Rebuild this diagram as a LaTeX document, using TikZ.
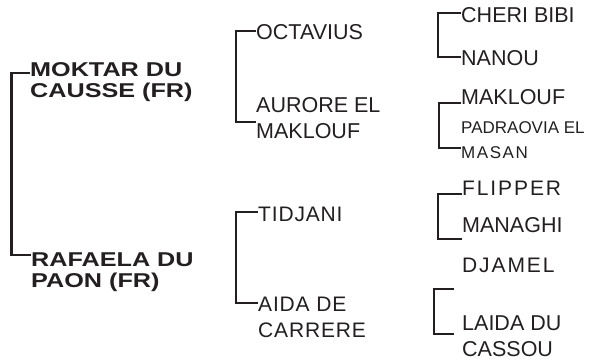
\documentclass[tikz,border=0pt]{standalone}
\usepackage{fontspec}
\setmainfont{Liberation Sans}
\newfontfamily\sirefont[FakeStretch=1.26]{Liberation Sans}
\newfontfamily\widefont[LetterSpace=4]{Liberation Sans}
\newfontfamily\widerfont[LetterSpace=9]{Liberation Sans}
\definecolor{ink}{HTML}{231F20}

\tikzset{
	bracket/.style={line width=2.2pt, draw=ink},
	horse/.style={anchor=base west, inner sep=0pt, align=left, text=ink, font=\fontsize{21.5}{25.5}\selectfont},
	sire/.style={horse, font=\sirefont\bfseries\fontsize{20}{21}\selectfont},
	horsewide/.style={horse, font=\widefont\fontsize{21}{26}\selectfont},
	horsewider/.style={horse, font=\widerfont\fontsize{21}{25}\selectfont},
	horsesmall/.style={horse, font=\fontsize{17}{25}\selectfont}
}

\begin{document}
\begin{tikzpicture}[x=1pt, y=-1pt]
	\useasboundingbox (0,0) rectangle (601,361);
	% first generation
	\node[sire] (moktar) at (30,97) {MOKTAR DU\\CAUSSE (FR)};
	\node[sire] (rafaela) at (31,287) {RAFAELA DU\\PAON (FR)};
	% second generation
	\node[horse] (octavius) at (256,40) {OCTAVIUS};
	\node[horse] (aurore) at (256,138) {AURORE EL\\MAKLOUF};
	\node[horsewide] (tidjani) at (258,221) {TIDJANI};
	\node[horsewide] (aida) at (258,337) {AIDA DE\\CARRERE};
	% third generation
	\node[horse] (cheri) at (461,23) {CHERI BIBI};
	\node[horse] (nanou) at (461,65) {NANOU};
	\node[horse] (maklouf) at (461,104) {MAKLOUF};
	\node[horsesmall] (padraovia) at (461,158) {PADRAOVIA EL\\{\widerfont MASAN}};
	\node[horsewider] (flipper) at (462,195) {FLIPPER};
	\node[horse] (managhi) at (462,232) {MANAGHI};
	\node[horsewider] (djamel) at (462,272) {DJAMEL};
	\node[horse] (laida) at (462,356) {LAIDA DU\\CASSOU};
	\coordinate (blank) at (454,289);

	\draw[bracket] ([yshift=24pt]moktar.base west) -- ++(-18.5,0) |- ([yshift=32pt]rafaela.base west);
	\draw[bracket] ([yshift=9pt]octavius.base west) -- ++(-20,0) |- ([yshift=16pt]aurore.base west);
	\draw[bracket] ([yshift=9pt]tidjani.base west) -- ++(-22,0) |- ([yshift=34pt]aida.base west);
	\draw[bracket] ([yshift=10pt]cheri.base west) -- ++(-23,0) |- ([yshift=8pt]nanou.base west);
	\draw[bracket] ([yshift=1pt]maklouf.base west) -- ++(-22,0) |- ([yshift=10pt]padraovia.base west);
	\draw[bracket] ([yshift=1pt]flipper.base west) -- ++(-24,0) |- ([yshift=-7pt]managhi.base west);
	\draw[bracket] (blank) -- ++(-20,0) |- ([xshift=-8pt, yshift=22pt]laida.base west);
\end{tikzpicture}
\end{document}
